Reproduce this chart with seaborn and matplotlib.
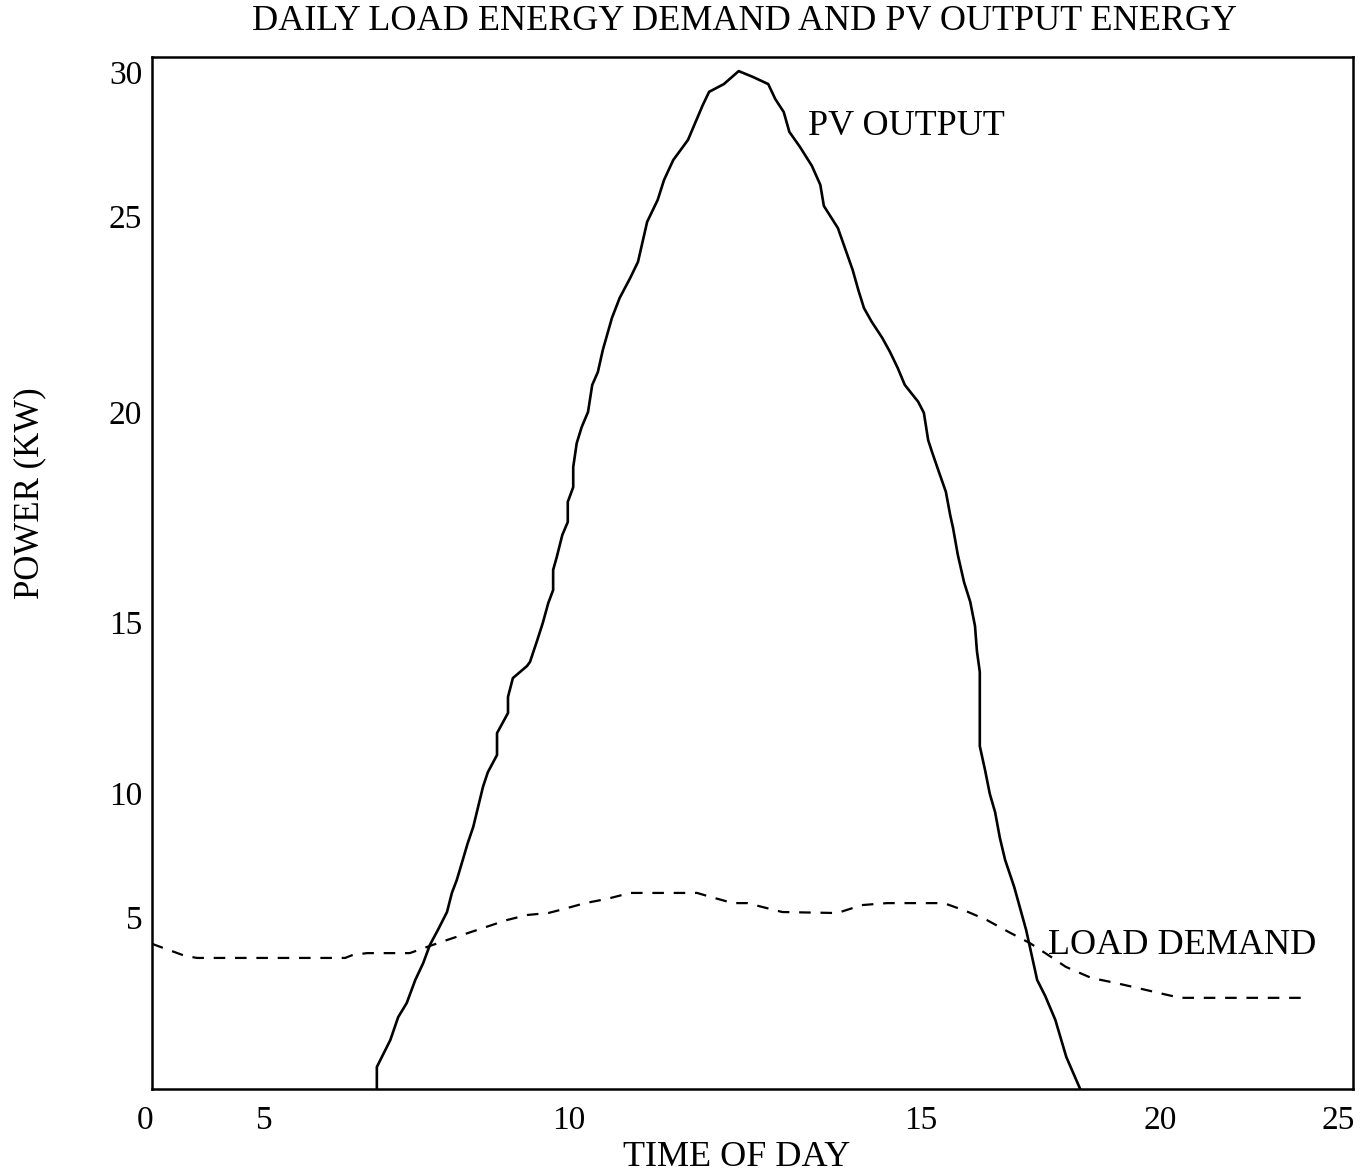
import numpy as np
import pandas as pd
import matplotlib
matplotlib.use("Agg")
import matplotlib.pyplot as plt
import matplotlib.transforms as mtransforms
import seaborn as sns

# ---------------- data ----------------
pv_time = [6.85, 6.85, 7.07, 7.20, 7.34, 7.48, 7.61, 7.72, 7.85, 8.00, 8.08, 8.16, 8.21,
           8.34, 8.43, 8.51, 8.59, 8.67, 8.82, 8.82, 9.00, 9.00, 9.08, 9.31, 9.36, 9.48,
           9.57, 9.66, 9.74, 9.74, 9.80, 9.89, 9.98, 9.98, 10.06, 10.06, 10.11, 10.18,
           10.27, 10.33, 10.41, 10.48, 10.61, 10.72, 10.87, 10.98, 11.11, 11.26, 11.35,
           11.48, 11.69, 11.78, 11.90, 11.99, 12.20, 12.41, 12.61, 12.83, 12.93, 13.05,
           13.13, 13.28, 13.45, 13.57, 13.62, 13.82, 13.92, 14.03, 14.11, 14.19, 14.30,
           14.45, 14.56, 14.67, 14.77, 14.96, 15.06, 15.15, 15.23, 15.36, 15.52, 15.61,
           15.67, 15.77, 15.90, 16.03, 16.13, 16.17, 16.23, 16.23, 16.34, 16.44, 16.55,
           16.65, 16.76, 16.95, 17.20, 17.43, 17.60, 17.81, 18.04, 18.33]
pv_power = [0.00, 0.64, 1.42, 2.09, 2.50, 3.17, 3.66, 4.19, 4.62, 5.20, 5.97, 6.49, 6.90,
            7.98, 8.63, 9.44, 10.18, 10.61, 11.11, 11.75, 12.34, 12.81, 13.36, 13.71, 13.83,
            14.47, 14.97, 15.45, 15.76, 16.24, 16.55, 17.07, 17.38, 17.86, 18.21, 18.69,
            19.26, 19.64, 20.00, 20.69, 21.02, 21.58, 22.40, 22.91, 23.42, 23.83, 24.85,
            25.56, 26.25, 26.94, 27.64, 28.16, 28.85, 29.31, 29.58, 30.03, 29.83, 29.58,
            29.06, 28.61, 27.92, 27.40, 26.74, 26.08, 25.35, 24.69, 24.18, 23.62, 23.11,
            22.65, 22.30, 21.89, 21.53, 21.12, 20.69, 20.26, 19.98, 19.33, 19.05, 18.62,
            18.10, 17.55, 17.24, 16.60, 15.95, 15.48, 14.88, 14.15, 13.54, 11.37, 10.67,
            9.96, 9.23, 8.19, 7.30, 6.21, 4.62, 3.17, 2.70, 2.01, 0.93, 0.00]

load_time = [0.00, 1.47, 2.01, 6.33, 6.46, 6.69, 7.39, 7.72, 8.00, 8.59, 8.98, 9.31, 9.66,
             9.85, 10.23, 10.54, 10.87, 11.82, 12.01, 12.33, 12.53, 13.03, 13.81, 14.16,
             14.52, 15.48, 15.94, 16.38, 16.84, 17.28, 17.72, 18.03, 18.56, 19.08, 19.52,
             19.98, 20.52, 23.65, 23.81]
load_power = [4.22, 3.87, 3.81, 3.81, 3.90, 3.95, 3.95, 4.16, 4.33, 4.68, 4.91, 5.08, 5.16,
              5.28, 5.56, 5.73, 5.97, 5.97, 5.81, 5.56, 5.56, 5.20, 5.16, 5.48, 5.56, 5.56,
              5.24, 4.91, 4.56, 4.24, 3.84, 3.55, 3.23, 3.08, 2.94, 2.79, 2.65, 2.65, 2.73]

x_ticks = [0, 5, 10, 15, 20, 25]
y_ticks = [5, 10, 15, 20, 25, 30]

# ---------------- non-uniform axis scales (as in the reference) ----------------
x_anchor_val = np.array([0, 5, 10, 15, 20, 25], dtype=float)
x_anchor_pos = np.array([0, 112, 417, 769, 1008, 1201], dtype=float)
y_anchor_val = np.array([0, 5, 10, 15, 20, 25, 30, 31], dtype=float)
y_anchor_pos = np.array([0, 172, 296, 467, 677, 873, 1017, 1045.8], dtype=float)

def x_fwd(v):
    return np.interp(v, x_anchor_val, x_anchor_pos)

def x_inv(p):
    return np.interp(p, x_anchor_pos, x_anchor_val)

def y_fwd(v):
    return np.interp(v, y_anchor_val, y_anchor_pos)

def y_inv(p):
    return np.interp(p, y_anchor_pos, y_anchor_val)

# ---------------- figure ----------------
sns.set_theme(style="white")
plt.rcParams['font.family'] = ['Liberation Serif', 'DejaVu Serif']

W, H = 1367, 1174
fig = plt.figure(figsize=(W / 100, H / 100), dpi=100)
ax = fig.add_axes([152 / W, (H - 1089) / H, (1353 - 152) / W, (1089 - 57) / H])
ax.set_xscale('function', functions=(x_fwd, x_inv))
ax.set_yscale('function', functions=(y_fwd, y_inv))

pv_df = pd.DataFrame({"time": pv_time, "power": pv_power})
load_df = pd.DataFrame({"time": load_time, "power": load_power})

sns.lineplot(data=pv_df, x="time", y="power", ax=ax, estimator=None, sort=False,
             color="black", linewidth=1.9)
sns.lineplot(data=load_df, x="time", y="power", ax=ax, estimator=None, sort=False,
             color="black", linewidth=1.6, dashes=False)
ax.lines[-1].set_dashes((5.2, 4.4))

ax.set_xlim(0, 25)
ax.set_ylim(0, 30.52)

ax.set_xticks(x_ticks)
ax.set_xticklabels([str(t) for t in x_ticks])
ax.set_yticks(y_ticks)
ax.set_yticklabels([str(t) for t in y_ticks])
ax.minorticks_off()
ax.tick_params(axis='both', direction='in', length=12, width=1.6, color='black',
               labelcolor='black', labelsize=24)
ax.tick_params(axis='x', pad=12)
ax.tick_params(axis='y', pad=7)
ax.yaxis.get_major_ticks()[-1].tick1line.set_visible(False)

# nudge the end labels as in the reference
xlabels = ax.get_xticklabels()
for lbl, dx in ((xlabels[0], -7), (xlabels[-1], -15)):
    lbl.set_transform(lbl.get_transform() +
                      mtransforms.ScaledTranslation(dx / 100, 0, fig.dpi_scale_trans))

for s in ax.spines.values():
    s.set_visible(True)
    s.set_color('black')
    s.set_linewidth(1.8)

ax.set_xlabel("TIME OF DAY", fontsize=26, color='black', va='center')
ax.xaxis.set_label_coords((737 - 152) / 1201, (1089 - 1158) / 1032)
ax.set_ylabel("POWER (KW)", fontsize=25, color='black', va='center')
ax.yaxis.set_label_coords((30 - 152) / 1201, (1089 - 493) / 1032)

ax.text(13.39, 28.09, "PV OUTPUT", fontsize=26, color='black', ha='left', va='center')
ax.text(17.66, 4.16, "LOAD DEMAND", fontsize=26, color='black', ha='left', va='center')

fig.text(745 / W, 1 - 22 / H, "DAILY LOAD ENERGY DEMAND AND PV OUTPUT ENERGY",
         fontsize=26, color='black', ha='center', va='center')

fig.savefig("out.png", dpi=100, facecolor='white')
